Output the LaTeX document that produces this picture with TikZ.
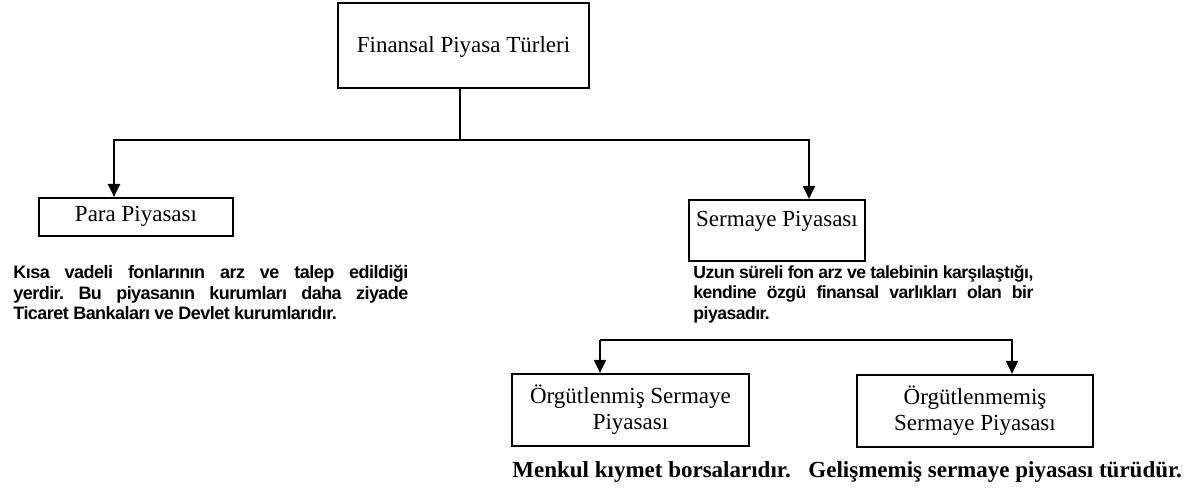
\documentclass[tikz,border=0pt]{standalone}
\usepackage{fontspec}
\setmainfont{Liberation Serif}
\newfontfamily\kalin{Liberation Sans}[LetterSpace=-3]
\usetikzlibrary{arrows.meta}

\begin{document}
\begin{tikzpicture}[x=0.5pt,y=-0.5pt,
    kutu/.style={draw,line width=1.1pt,inner sep=0pt,align=center,font=\fontsize{11.5}{13}\selectfont},
    cizgi/.style={line width=1.1pt},
    ok/.style={line width=1.1pt,-{Triangle[length=6.5pt,width=6pt]}},
    aciklama/.style={inner sep=0pt,anchor=north west,align=justify,font=\kalin\bfseries\fontsize{9}{10.25}\selectfont\frenchspacing},
    sonuc/.style={inner sep=0pt,anchor=base west,font=\bfseries\fontsize{11.5}{13}\selectfont}]
    \useasboundingbox (0,0) rectangle (1199,495);
    \node[kutu,minimum width=125.5pt,minimum height=42.5pt,text height=9pt,text depth=2.5pt] (turler) at (463.5,45.5) {Finansal Piyasa Türleri};
    \node[kutu,minimum width=97pt,minimum height=19pt,text height=8pt,text depth=4pt] (para) at (136,217) {Para Piyasası};
    \node[kutu,minimum width=88pt,minimum height=30.5pt,text height=8pt,text depth=12.5pt] (sermaye) at (777,230.5) {Sermaye Piyasası};
    \node[kutu,minimum width=118.5pt,minimum height=36pt] (org) at (630.5,410) {Örgütlenmiş Sermaye\\Piyasası};
    \node[kutu,minimum width=118pt,minimum height=36pt] (orgsuz) at (975,411) {Örgütlenmemiş\\Sermaye Piyasası};
    \node[aciklama,text width=197.5pt] (paratxt) at (13,265) {Kısa vadeli fonlarının arz ve talep edildiği\linebreak yerdir. Bu piyasanın kurumları daha ziyade\linebreak Ticaret Bankaları ve Devlet kurumlarıdır.};
    \node[aciklama,text width=170pt,font=\kalin\bfseries\fontsize{8.8}{10.25}\selectfont\frenchspacing] (sermayetxt) at (693,265) {Uzun süreli fon arz ve talebinin karşılaştığı,\linebreak kendine özgü finansal varlıkları olan bir\linebreak piyasadır.};
    \node[sonuc] (menkul) at (512,477) {Menkul kıymet borsalarıdır.};
    \node[sonuc] (gelis) at (808,477) {Gelişmemiş sermaye piyasası türüdür.};
    \coordinate (ust) at (460,140);
    \coordinate (solok) at (114,140);
    \coordinate (sagok) at (809,140);
    \coordinate (altsol) at (600,340);
    \coordinate (altsag) at (1012,340);
    \draw[cizgi] (ust |- turler.south) -- (ust);
    \draw[ok] (ust) -- (solok) -- (solok |- para.north);
    \draw[ok] (ust) -- (sagok) -- (sagok |- sermaye.north);
    \draw[ok] (altsol) -- (altsag) -- (altsag |- orgsuz.north);
    \draw[ok] (altsol) -- (altsol |- org.north);
\end{tikzpicture}
\end{document}
